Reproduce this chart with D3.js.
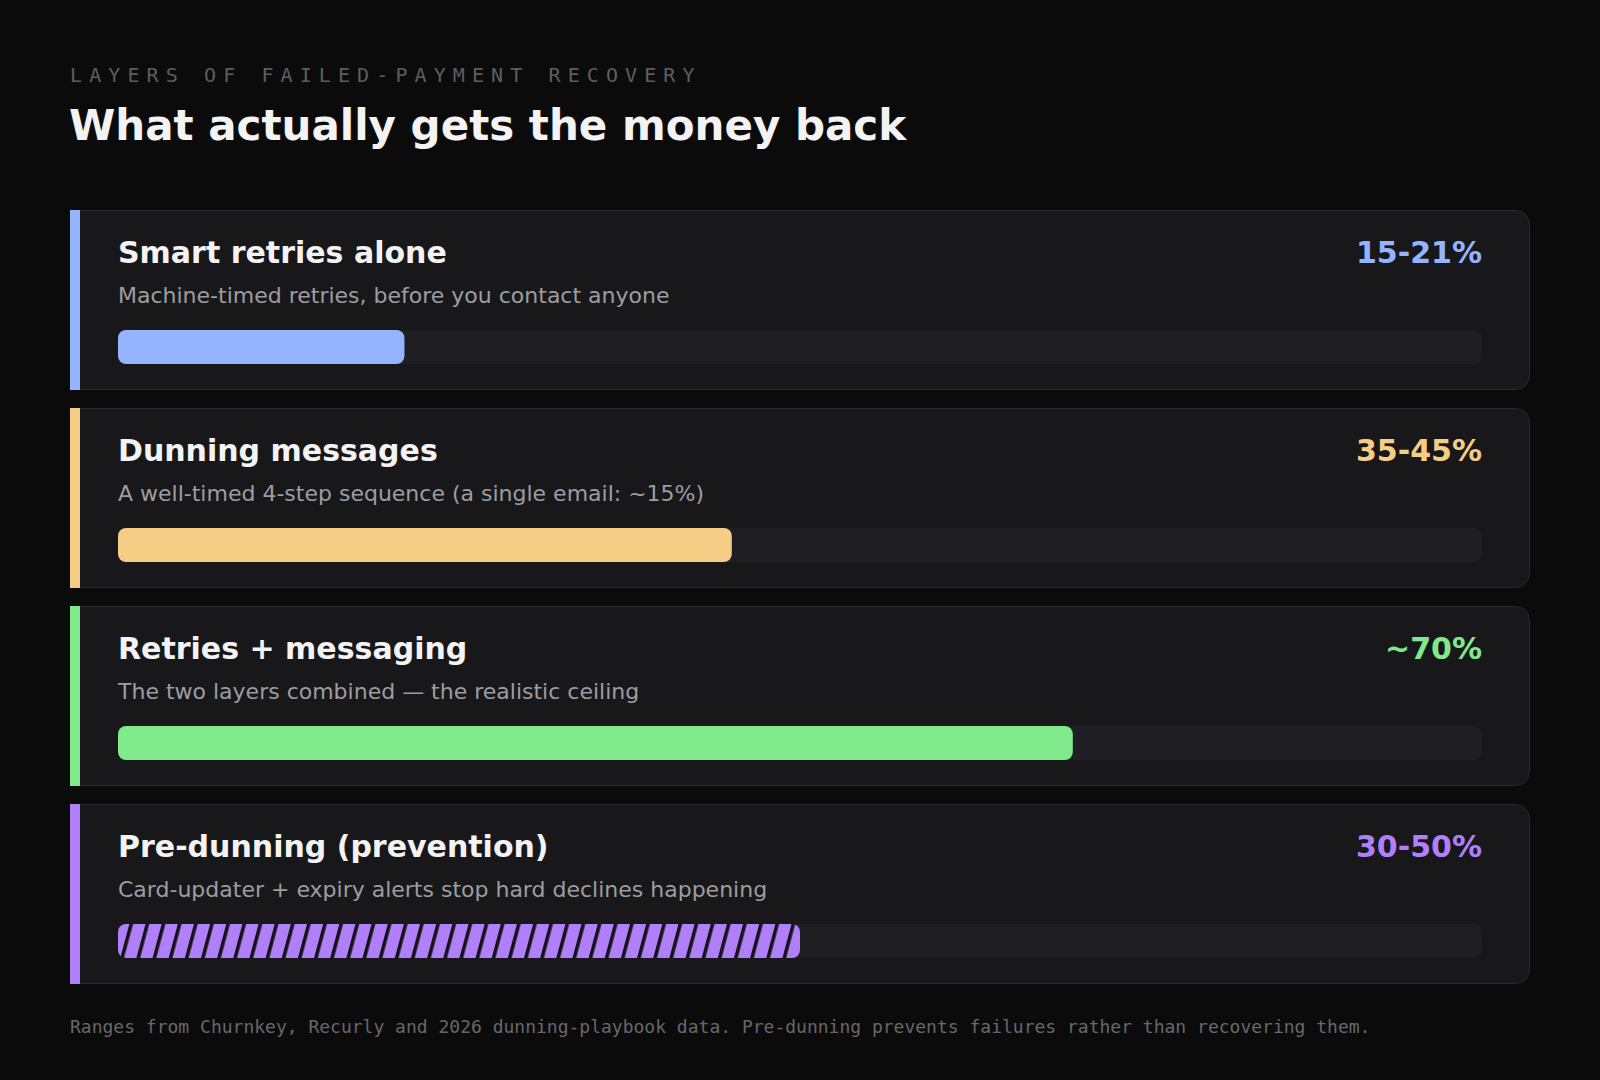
<!DOCTYPE html>
<html>
<head>
<meta charset="utf-8">
<script src="https://cdn.jsdelivr.net/npm/d3@7"></script>
<style>
  html, body { margin: 0; padding: 0; background: #0b0b0c; }
  svg { display: block; }
</style>
</head>
<body>
<svg id="chart" width="1600" height="1080"></svg>
<script>
// ---- data ----
const categories = ["Smart retries alone", "Dunning messages", "Retries + messaging", "Pre-dunning (prevention)"];
const descriptions = [
  "Machine-timed retries, before you contact anyone",
  "A well-timed 4-step sequence (a single email: ~15%)",
  "The two layers combined \u2014 the realistic ceiling",
  "Card-updater + expiry alerts stop hard declines happening"
];
const lowValues = [15, 35, 70, 30];
const highValues = [21, 45, 70, 50];
const valueLabels = ["15-21%", "35-45%", "~70%", "30-50%"];
const patterned = [false, false, false, true];
const colors = ["#95b4ff", "#f5cd84", "#80e98b", "#b07ffa"];
const eyebrow = "LAYERS OF FAILED-PAYMENT RECOVERY";
const title = "What actually gets the money back";
const footnote = "Ranges from Churnkey, Recurly and 2026 dunning-playbook data. Pre-dunning prevents failures rather than recovering them.";

const rows = categories.map((c, i) => ({
  name: c, desc: descriptions[i], lo: lowValues[i], hi: highValues[i],
  label: valueLabels[i], pattern: patterned[i], color: colors[i]
}));

// ---- layout ----
const svg = d3.select("#chart");
const W = 1600, H = 1080;
const cardLeft = 70, cardRight = 1530, accentW = 10, cardR = 14;
const padL = 48, padR = 48;
const trackX = cardLeft + padL, trackW = (cardRight - padR) - trackX;
const trackH = 34;

svg.append("rect").attr("width", W).attr("height", H).attr("fill", "#0b0b0c");

const y = d3.scaleBand().domain(categories).range([210, 984]).paddingInner(18 / 198).paddingOuter(0);
const x = d3.scaleLinear().domain([0, 100]).range([0, trackW]);

// pattern for prevention bar
const defs = svg.append("defs");
rows.filter(d => d.pattern).forEach((d, i) => {
  const p = defs.append("pattern")
    .attr("id", "stripes" + i)
    .attr("patternUnits", "userSpaceOnUse")
    .attr("width", 15.6).attr("height", 15.6)
    .attr("patternTransform", "rotate(15)");
  p.append("rect").attr("width", 15.6).attr("height", 15.6).attr("fill", d.color);
  p.append("rect").attr("x", 0).attr("y", 0).attr("width", 3.6).attr("height", 15.6).attr("fill", "#141417");
});

// header
svg.append("text")
  .attr("x", 70).attr("y", 82)
  .attr("font-family", "DejaVu Sans Mono")
  .attr("font-size", 20)
  .attr("letter-spacing", 7.1)
  .attr("fill", "#5e5e60")
  .text(eyebrow);

svg.append("text")
  .attr("x", 69).attr("y", 140)
  .attr("font-family", "DejaVu Sans")
  .attr("font-weight", "bold")
  .attr("font-size", 42)
  .attr("fill", "#f3f3f3")
  .text(title);

function cardPath(x0, y0, x1, y1, r) {
  return `M${x0},${y0} H${x1 - r} A${r},${r} 0 0 1 ${x1},${y0 + r} V${y1 - r} A${r},${r} 0 0 1 ${x1 - r},${y1} H${x0} Z`;
}

const card = svg.selectAll("g.card").data(rows).join("g")
  .attr("class", "card")
  .attr("transform", d => `translate(0,${y(d.name)})`);

const bh = y.bandwidth();

card.append("path")
  .attr("d", cardPath(cardLeft + 0.5, 0.5, cardRight - 0.5, bh - 0.5, cardR))
  .attr("fill", "#18181b")
  .attr("stroke", "#2a2a2e")
  .attr("stroke-width", 1);

card.append("rect")
  .attr("x", cardLeft).attr("y", 0)
  .attr("width", accentW).attr("height", bh)
  .attr("fill", d => d.color);

card.append("text")
  .attr("x", trackX).attr("y", 53)
  .attr("font-family", "DejaVu Sans")
  .attr("font-weight", "bold")
  .attr("font-size", 30)
  .attr("fill", "#f3f3f3")
  .text(d => d.name);

card.append("text")
  .attr("x", trackX + trackW).attr("y", 53)
  .attr("text-anchor", "end")
  .attr("font-family", "DejaVu Sans")
  .attr("font-weight", "bold")
  .attr("font-size", 30)
  .attr("fill", d => d.color)
  .text(d => d.label);

card.append("text")
  .attr("x", trackX).attr("y", 93)
  .attr("font-family", "DejaVu Sans")
  .attr("font-size", 22)
  .attr("fill", "#9d9da0")
  .text(d => d.desc);

card.append("rect")
  .attr("x", trackX).attr("y", 120)
  .attr("width", trackW).attr("height", trackH)
  .attr("rx", 8)
  .attr("fill", "#1f1f23");

card.append("rect")
  .attr("x", trackX).attr("y", 120)
  .attr("width", d => x(d.hi)).attr("height", trackH)
  .attr("rx", 8)
  .attr("fill", (d, i) => d.pattern ? "url(#stripes0)" : d.color);

// footer
svg.append("text")
  .attr("x", 70).attr("y", 1033)
  .attr("font-family", "DejaVu Sans Mono")
  .attr("font-size", 18)
  .attr("fill", "#68686a")
  .text(footnote);
</script>
</body>
</html>
